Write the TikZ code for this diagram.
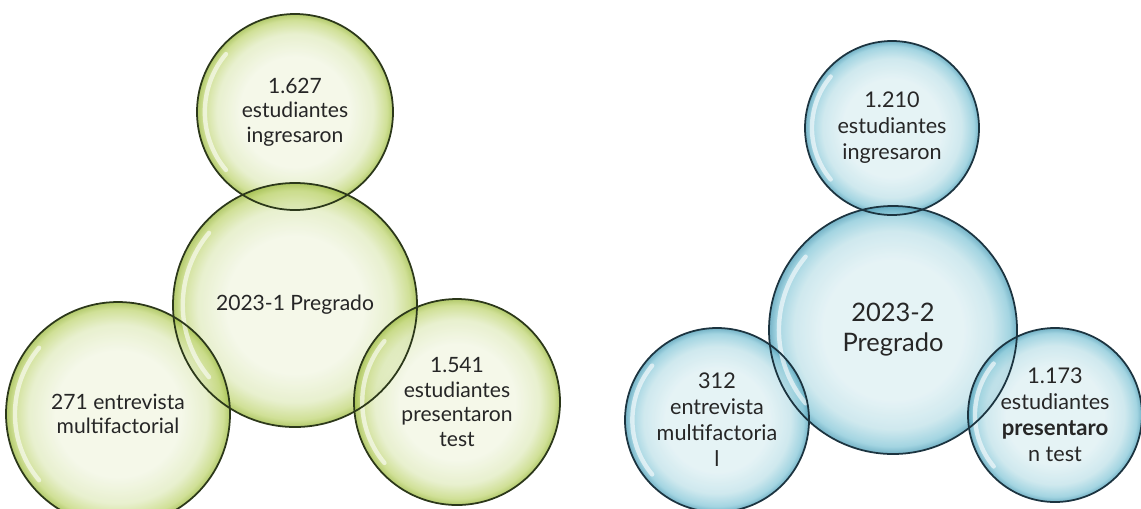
\documentclass[tikz,border=0pt]{standalone}
\usepackage{fontspec}
\setmainfont{Lato}

\definecolor{gIn}{HTML}{F2F6E4}
\definecolor{gMid}{HTML}{E2ECC2}
\definecolor{gRim}{HTML}{C4D87C}
\definecolor{gEdge}{HTML}{9FBC46}
\definecolor{gLine}{HTML}{2C381A}
\definecolor{bIn}{HTML}{DFF0F3}
\definecolor{bMid}{HTML}{C3E3EA}
\definecolor{bRim}{HTML}{8CCADA}
\definecolor{bEdge}{HTML}{519FB8}
\definecolor{bLine}{HTML}{1C3440}

% radial shadings: the 25bp circle is the rim of the path
\pgfdeclareradialshading{bubgreen}{\pgfpoint{0bp}{0bp}}{%
  color(0bp)=(gIn); color(14bp)=(gIn); color(20bp)=(gMid); color(23.5bp)=(gRim); color(25bp)=(gEdge); color(50bp)=(gEdge)}
\pgfdeclareradialshading{bubblue}{\pgfpoint{0bp}{0bp}}{%
  color(0bp)=(bIn); color(14bp)=(bIn); color(20bp)=(bMid); color(23.5bp)=(bRim); color(25bp)=(bEdge); color(50bp)=(bEdge)}

\begin{document}
\begin{tikzpicture}[x=0.02cm, y=-0.02cm,
  bub/.style={circle, inner sep=0pt, align=center, fill opacity=0.8, text opacity=1,
    minimum size=#1*0.04cm, text=black!85, font=\fontsize{12}{14}\selectfont},
  gbub/.style={bub=#1, shading=bubgreen},
  bbub/.style={bub=#1, shading=bubblue, font=\fontsize{12.3}{14.8}\selectfont},
  grim/.style={draw=gLine, line width=1pt},
  brim/.style={draw=bLine, line width=1pt},
  gloss/.style={draw=white, opacity=0.6, line width=2.5pt, line cap=round}]
  \useasboundingbox (0,0) rectangle (1141,508);

  % 2023-1 bubbles
  \node[gbub=98]  (ing1)  at (295,112) {1.627\\estudiantes\\ingresaron};
  \node[gbub=122] (pre1)  at (295,305) {2023-1 Pregrado};
  \node[gbub=112] (ent1)  at (118,414) {271 entrevista\\multifactorial};
  \node[gbub=103] (test1) at (457,402) {1.541\\estudiantes\\presentaron\\test};

  % 2023-2 bubbles
  \node[bbub=87]  (ing2)  at (892,128) {1.210\\estudiantes\\ingresaron};
  \node[bbub=124, font=\fontsize{14.5}{17}\selectfont] (pre2) at (893,330) {2023-2\\Pregrado};
  \node[bbub=92]  (ent2)  at (717,420) {312\\entrevista\\multifactoria\\l};
  \node[bbub=87]  (test2) at (1055,415) {1.173\\estudiantes\\{\bfseries\fontsize{12.6}{14.8}\selectfont presentaro}\\n test};

  % gloss and outlines on top
  \foreach \n/\r in {ing1/98, pre1/122, ent1/112, test1/103, ing2/87, pre2/124, ent2/92, test2/87}
    \draw[gloss] (\n.center) ++(-140:0.92*\r) arc[start angle=-140, end angle=-220, radius=0.92*\r];
  \foreach \n/\r in {ing1/98, pre1/122, ent1/112, test1/103}
    \draw[grim] (\n.center) circle[radius=\r];
  \foreach \n/\r in {ing2/87, pre2/124, ent2/92, test2/87}
    \draw[brim] (\n.center) circle[radius=\r];
\end{tikzpicture}
\end{document}
